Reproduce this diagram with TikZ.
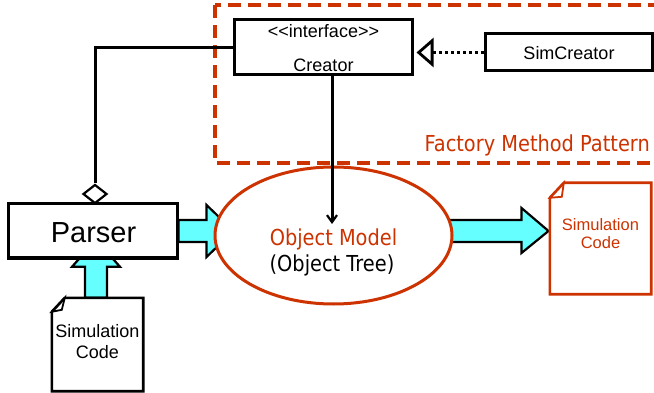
\documentclass[tikz,border=0pt]{standalone}
\usepackage{fontspec}
\setmainfont{Liberation Sans}
\newfontfamily\tahfont[FakeStretch=0.88]{DejaVu Sans}
\usetikzlibrary{arrows.meta,calc,shapes.geometric,backgrounds}
\definecolor{rust}{RGB}{204,51,0}
\definecolor{aqua}{RGB}{102,255,255}

\begin{document}
\begin{tikzpicture}[x=1pt,y=-1pt,
  box/.style={draw,line width=3pt,fill=white,inner sep=0pt,rectangle},
  fat/.style={draw,line width=2.2pt,fill=aqua,line join=miter},
  link/.style={line width=3pt},
  txt/.style={inner sep=0pt,anchor=base},
  doc/.style={line width=2.6pt,fill=white,line join=miter},
  fs/.style={font=\fontsize{#1}{#1}\selectfont},
]
\useasboundingbox (0,0) rectangle (654,393);

% pattern frame, open to the right
\begin{scope}
  \clip (0,0) rectangle (654,393);
  \draw[rust,line width=3.4pt,dash pattern=on 13pt off 7pt] (215,5) rectangle (690,163);
\end{scope}
\node[txt,anchor=base east,text=rust,font=\tahfont\fontsize{22}{22}\selectfont] (fmp) at (650,152) {Factory Method Pattern};

% class boxes
\node[box,minimum width=178pt,minimum height=55pt] (creator) at (323,47.5) {};
\node[txt,fs=18] (iface) at (323.5,38) {<{}<interface>{}>};
\node[txt,fs=18] (cname) at (323.5,72) {Creator};

\node[box,minimum width=167pt,minimum height=37pt] (simc) at (568.5,52.5) {};
\node[txt,fs=18] (sname) at (569,60) {SimCreator};

\node[box,minimum width=169pt,minimum height=54pt] (parser) at (92.5,231) {};
\node[txt,fs=29] (pname) at (93.5,243) {Parser};

% documents (placeholders for geometry)
\node[inner sep=0pt,minimum width=91pt,minimum height=93pt] (docL) at (97.5,344.5) {};
\node[inner sep=0pt,minimum width=101pt,minimum height=111pt] (docR) at (600.5,238.5) {};

% object model
\node[ellipse,draw=rust,line width=3pt,fill=white,inner sep=0pt,
      minimum width=237pt,minimum height=137pt] (model) at (333.5,235.5) {};
\node[txt,text=rust,font=\tahfont\fontsize{22}{22}\selectfont] (mname) at (333.5,245) {Object Model};
\node[txt,font=\tahfont\fontsize{22}{22}\selectfont] (mtree) at (332,272) {(Object Tree)};

% fat data-flow arrows, kept behind the boxes
\begin{scope}[on background layer]
  % Parser -> Object Model
  \draw[fat] ($(parser.east)+(0,-11)$) -- ++(28,0) -- ++(0,-15) -- ++(27,26)
     -- ++(-27,26) -- ++(0,-15) -- ++(-28,0) -- cycle;
  % Object Model -> generated code
  \draw[fat] ($(model.east)+(-12,-15.5)$) -- ++(80,0) -- ++(0,-12) -- ++(27,23)
     -- ++(-27,22) -- ++(0,-11) -- ++(-80,0) -- cycle;
  % source code -> Parser
  \draw[fat] ($(docL.north)+(-12.5,0)$) -- ++(0,-31) -- ++(-13,0) -- ++(24,-27)
     -- ++(24,27) -- ++(-13,0) -- ++(0,31) -- cycle;
\end{scope}

% source document
\draw[doc] ($(docL.north west)+(13,0)$) -- (docL.north east) -- (docL.south east)
  -- (docL.south west) -- ($(docL.north west)+(0,14)$) -- cycle;
\draw[line width=1.8pt,line join=miter] ($(docL.north west)+(0,14)$) -- ($(docL.north west)+(13,0)$)
  -- ($(docL.north west)+(10,12)$) -- cycle;
\node[txt,fs=18] (lsim) at (97.5,337) {Simulation};
\node[txt,fs=18] (lcode) at (97.5,358) {Code};

% generated document
\draw[doc,draw=rust] ($(docR.north west)+(14,0)$) -- (docR.north east) -- (docR.south east)
  -- (docR.south west) -- ($(docR.north west)+(0,15)$) -- cycle;
\draw[rust,line width=1.8pt,line join=miter] ($(docR.north west)+(0,15)$) -- ($(docR.north west)+(14,0)$)
  -- ($(docR.north west)+(12,14)$) -- cycle;
\node[txt,fs=16.5,text=rust] (rsim) at (600.5,230) {Simulation};
\node[txt,fs=16.5,text=rust] (rcode) at (600.5,249) {Code};

% UML relations
\node[diamond,draw,line width=2.2pt,fill=white,inner sep=0pt,minimum width=24pt,minimum height=19pt]
  (agg) at (95,194) {};
\draw[link] (creator.west) -| (agg.north);

\coordinate (mtip) at (332,224);
\draw[link,-{Straight Barb[length=7pt,width=10pt,line width=2.2pt]}] ($(creator.south)+(9,0)$) -- (mtip);

\draw[line width=3.2pt,dash pattern=on 3pt off 3pt,
      -{Triangle[open,length=17pt,width=29pt,line width=2.8pt,fill=white]}]
  (simc.west) -- ($(creator.east |- simc.west)+(3,0)$);
\end{tikzpicture}
\end{document}
